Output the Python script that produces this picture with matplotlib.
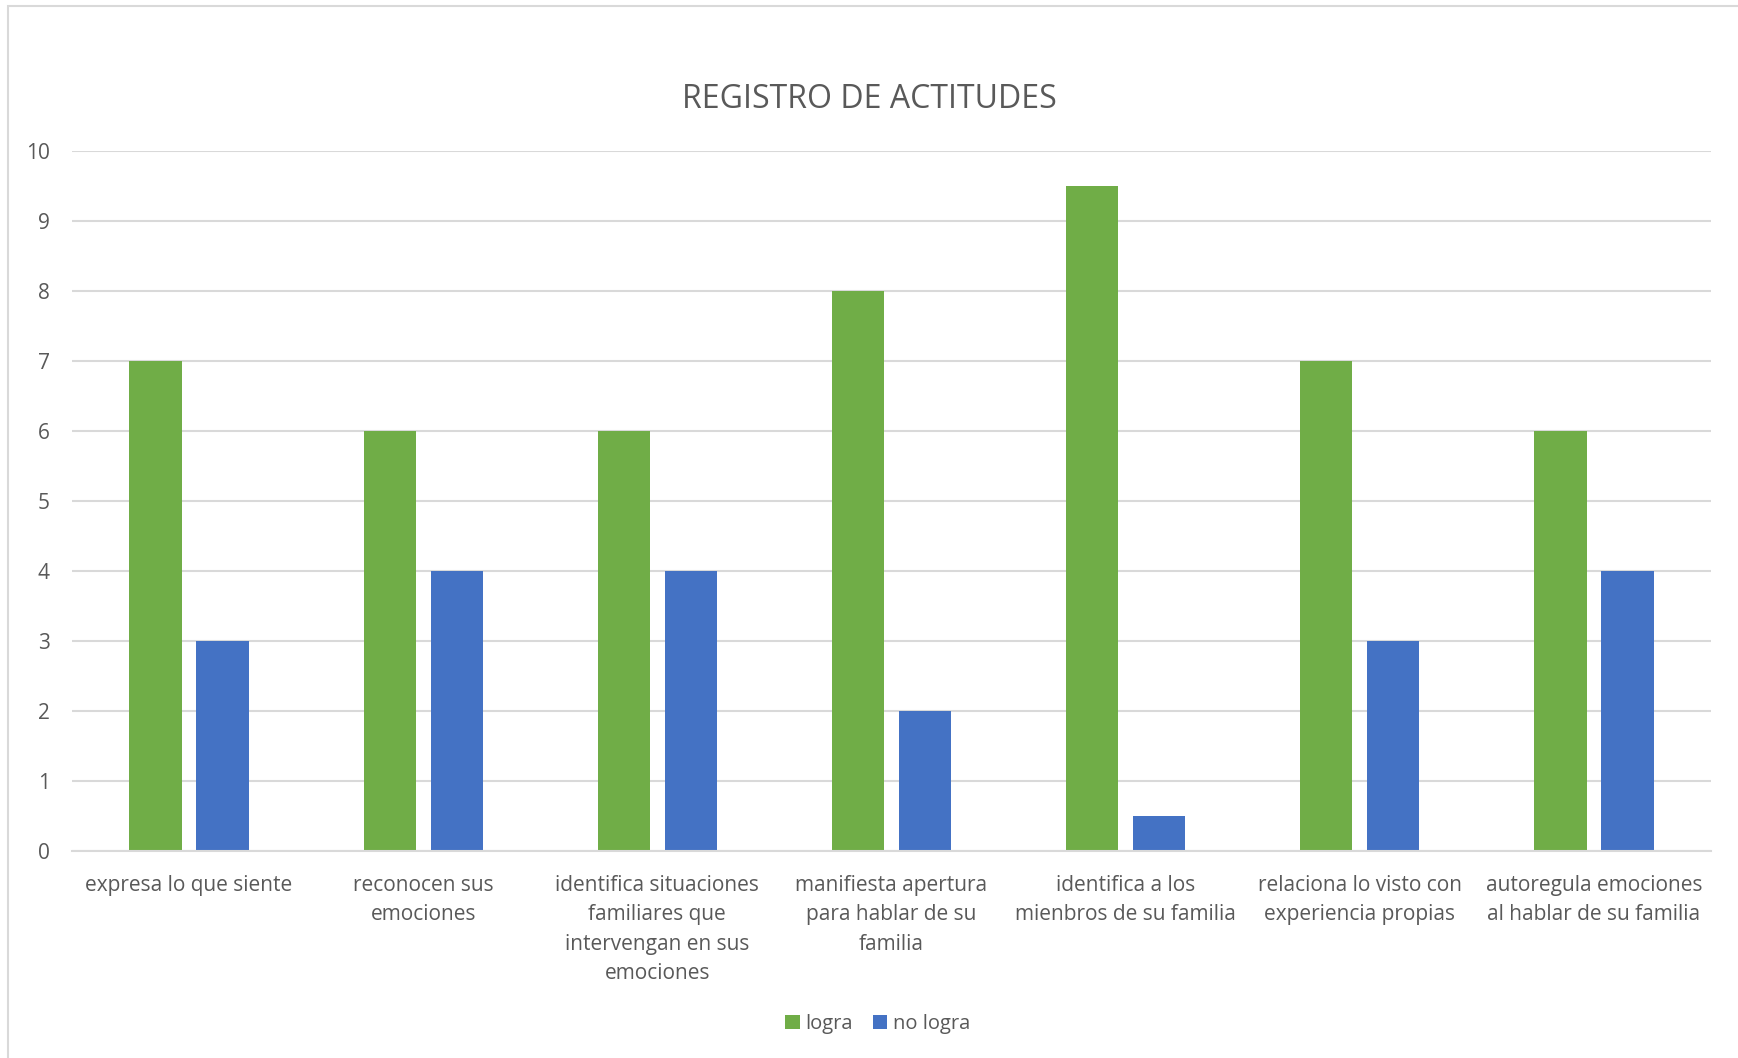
import matplotlib.pyplot as plt
import numpy as np
from matplotlib.patches import Rectangle

# Attitude record per item
categories = [
    "expresa lo que siente",
    "reconocen sus\nemociones",
    "identifica situaciones\nfamiliares que\nintervengan en sus\nemociones",
    "manifiesta apertura\npara hablar de su\nfamilia",
    "identifica a los\nmienbros de su familia",
    "relaciona lo visto con\nexperiencia propias",
    "autoregula emociones\nal hablar de su familia",
]
logra = [7, 6, 6, 8, 9.5, 7, 6]
no_logra = [3, 4, 4, 2, 0.5, 3, 4]

GREEN = "#70AD47"
BLUE = "#4472C4"
GRID = "#D9D9D9"
TEXT = "#595959"

plt.rcParams['font.family'] = ['Open Sans', 'DejaVu Sans']

fig = plt.figure(figsize=(17.38, 10.58), dpi=100)
ax = fig.add_axes([0.0414, 0.1957, 0.9431, 0.6616])

x = np.arange(len(categories))
width = 0.223
offset = 0.143
ax.bar(x - offset, logra, width, color=GREEN, label="logra", zorder=2)
ax.bar(x + offset, no_logra, width, color=BLUE, label="no logra", zorder=2)

ax.set_xlim(-0.5, len(categories) - 0.5)
ax.set_ylim(0, 10)
ax.set_yticks(range(0, 11))
ax.yaxis.grid(True, color=GRID, linewidth=1.5, zorder=0)
ax.tick_params(axis='y', length=0, pad=16, labelsize=15, labelcolor=TEXT)
ax.set_xticks(x)
ax.set_xticklabels(categories, fontsize=15, color=TEXT, linespacing=1.53)
ax.tick_params(axis='x', length=0, pad=17)
for side in ['top', 'right', 'left']:
    ax.spines[side].set_visible(False)
ax.spines['bottom'].set_color(GRID)
ax.spines['bottom'].set_linewidth(1.5)

fig.text(0.5, 1 - 99 / 1058, "REGISTRO DE ACTITUDES", ha='center', va='center',
         fontsize=23, color=TEXT)

fig.legend(loc='center', bbox_to_anchor=(878 / 1738, 1 - 1024 / 1058), ncol=2,
           frameon=False, fontsize=14.5, labelcolor=TEXT, handlelength=0.7,
           handleheight=0.7, handletextpad=0.3, columnspacing=1.0)

# chart area frame
fig.patches.append(Rectangle((8 / 1738, -0.01), 1.1, 1 - 6 / 1058 + 0.01,
                             transform=fig.transFigure, fill=False,
                             edgecolor=GRID, linewidth=1.5))

fig.savefig("out.png", dpi=100, facecolor='white')
